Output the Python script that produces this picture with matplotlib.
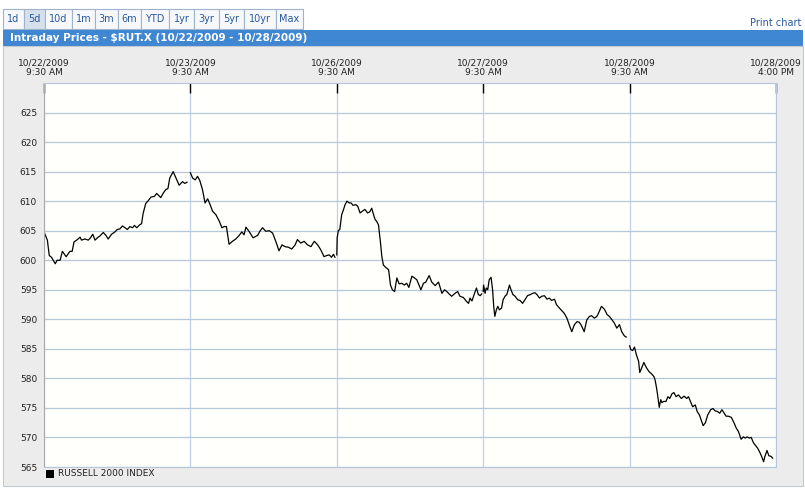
import matplotlib.pyplot as plt
from matplotlib.patches import Rectangle

# minutes after 9:30 AM open, and index level, one pair of lists per session
day1_min = [0, 9, 14, 20, 30, 35, 43, 49, 59, 69, 75, 80, 89, 96, 100, 109, 118, 124, 130, 136,
            142, 149, 158, 165, 171, 180, 189, 195, 202, 209, 216, 222, 229, 236, 241, 247, 255,
            260, 264, 271, 278, 285, 294, 300, 305, 311, 318, 325, 330, 335, 344, 351, 360, 369,
            375, 381]
day1_val = [604.8, 603.4, 600.8, 600.5, 599.4, 600.0, 600.0, 601.5, 600.6, 601.5, 601.5, 603.1,
            603.5, 603.9, 603.4, 603.6, 603.4, 603.8, 604.4, 603.4, 603.8, 604.1, 604.7, 604.2,
            603.6, 604.4, 604.8, 605.2, 605.3, 605.8, 605.5, 605.2, 605.7, 605.5, 605.9, 605.5,
            606.0, 606.2, 607.9, 609.6, 610.1, 610.7, 610.8, 611.3, 611.0, 610.6, 611.4, 612.0,
            612.1, 613.9, 615.0, 614.0, 612.7, 613.3, 613.0, 613.2]

day2_min = [0, 6, 13, 19, 25, 32, 39, 46, 52, 59, 68, 77, 84, 90, 96, 103, 112, 121, 130, 137,
            143, 148, 157, 167, 179, 185, 192, 201, 210, 219, 228, 236, 244, 252, 261, 270, 279,
            285, 294, 303, 312, 321, 330, 339, 347, 356, 363, 370, 376, 381, 385]
day2_val = [614.8, 613.9, 613.6, 614.2, 613.5, 612.0, 609.7, 610.4, 609.5, 608.3, 607.7, 606.6,
            605.5, 605.7, 605.7, 602.7, 603.2, 603.6, 604.2, 604.8, 604.3, 605.6, 604.8, 603.8,
            604.2, 604.9, 605.5, 604.9, 605.0, 604.6, 603.1, 601.6, 602.6, 602.3, 602.2, 601.9,
            602.6, 603.5, 602.9, 603.2, 602.6, 602.3, 603.2, 602.6, 601.8, 600.6, 600.8, 600.9,
            600.5, 601.0, 600.5]

day3_min = [0, 1, 4, 8, 13, 18, 22, 27, 33, 38, 43, 51, 56, 62, 68, 75, 82, 88, 93, 98, 102,
            106, 111, 116, 120, 124, 130, 138, 143, 148, 154, 160, 166, 173, 180, 186, 192, 200,
            207, 213, 219, 224, 231, 237, 246, 253, 262, 271, 280, 287, 293, 299, 306, 315, 322,
            328, 337, 346, 351, 355, 360, 367, 372, 377, 382, 386]
day3_val = [600.9, 603.8, 605.0, 605.2, 607.7, 608.6, 609.4, 610.0, 609.7, 609.7, 609.3, 609.4,
            609.1, 608.0, 608.3, 608.6, 608.0, 608.2, 608.8, 607.7, 606.9, 606.6, 606.0, 603.2,
            600.6, 599.2, 598.8, 598.4, 595.8, 595.0, 594.7, 597.0, 596.0, 596.1, 595.8, 596.1,
            595.4, 597.3, 597.0, 596.7, 595.8, 595.0, 596.1, 596.3, 597.4, 596.3, 595.7, 596.3,
            594.4, 595.0, 594.7, 594.3, 593.9, 594.4, 594.7, 593.9, 593.7, 593.0, 592.7, 593.6,
            593.1, 594.4, 595.3, 594.2, 594.0, 594.3]

day4_min = [0, 1, 5, 8, 12, 16, 21, 25, 28, 31, 35, 39, 43, 49, 53, 58, 63, 70, 74, 79, 85, 92,
            98, 105, 111, 118, 126, 132, 138, 143, 150, 156, 163, 170, 176, 182, 190, 195, 203,
            209, 216, 223, 229, 236, 243, 250, 256, 262, 269, 276, 283, 289, 296, 303, 309, 315,
            323, 330, 336, 342, 349, 356, 363, 369, 376, 381]
day4_val = [594.7, 595.8, 594.4, 595.3, 595.0, 596.7, 597.1, 595.0, 592.2, 590.5, 591.6, 592.2,
            591.6, 591.9, 593.3, 593.9, 594.2, 595.8, 595.0, 594.2, 593.9, 593.3, 593.2, 592.7,
            593.3, 594.0, 594.2, 594.4, 594.5, 594.2, 593.6, 593.9, 594.0, 593.4, 593.6, 593.2,
            593.4, 592.5, 591.9, 591.5, 591.0, 590.2, 589.1, 587.9, 589.1, 589.6, 589.5, 588.9,
            587.9, 589.9, 590.5, 590.6, 590.2, 590.5, 591.3, 592.2, 591.7, 590.8, 590.5, 590.0,
            589.4, 588.5, 589.1, 587.9, 587.2, 587.0]

day5_min = [0, 3, 8, 13, 18, 24, 27, 33, 38, 44, 51, 58, 65, 68, 72, 75, 79, 83, 86, 91, 97,
            102, 107, 113, 118, 124, 130, 138, 145, 152, 157, 162, 168, 175, 180, 186, 191, 196,
            202, 208, 216, 222, 228, 234, 240, 246, 251, 257, 263, 271, 278, 284, 290, 297, 303,
            308, 313, 319, 324, 330, 336, 341, 346, 351, 357, 360, 366, 371, 377, 381]
day5_val = [585.5, 584.9, 584.7, 585.3, 584.0, 582.9, 581.0, 581.9, 582.7, 581.9, 581.2, 580.8,
            580.3, 579.7, 578.3, 577.0, 575.1, 576.4, 575.9, 576.1, 576.1, 576.9, 576.6, 577.4,
            577.6, 576.9, 577.2, 576.6, 577.0, 576.6, 576.9, 576.1, 575.2, 575.5, 574.4, 573.8,
            572.9, 572.0, 572.5, 573.8, 574.7, 574.9, 574.5, 574.4, 574.1, 574.7, 574.2, 573.6,
            573.6, 573.4, 572.5, 571.6, 571.0, 569.7, 570.1, 569.9, 570.1, 569.9, 570.0, 569.1,
            568.6, 568.2, 567.6, 566.9, 565.9, 566.7, 567.8, 566.9, 566.8, 566.5]

tick_labels = ["10/22/2009\n9:30 AM", "10/23/2009\n9:30 AM", "10/26/2009\n9:30 AM",
               "10/27/2009\n9:30 AM", "10/28/2009\n9:30 AM", "10/28/2009\n4:00 PM"]
range_buttons = ["1d", "5d", "10d", "1m", "3m", "6m", "YTD", "1yr", "3yr", "5yr", "10yr", "Max"]
title = "Intraday Prices - $RUT.X (10/22/2009 - 10/28/2009)"
series_name = "RUSSELL 2000 INDEX"
session_len = 390  # minutes from 9:30 to 16:00

W, H = 805, 488
fig = plt.figure(figsize=(W / 100, H / 100), dpi=100)
fig.patch.set_facecolor("white")


def px(x, y, w, h):
    # pixel box (top-left origin) -> figure fraction
    return (x / W, 1 - (y + h) / H), w / W, h / H


def fig_rect(x, y, w, h, z=-1, **kw):
    xy, fw, fh = px(x, y, w, h)
    fig.patches.append(Rectangle(xy, fw, fh, transform=fig.transFigure, zorder=z, **kw))


# range buttons
btn_edges = [3, 24, 45, 72, 95, 118, 141, 169, 194, 219, 244, 276, 303]
for i, lab in enumerate(range_buttons):
    x0, x1 = btn_edges[i], btn_edges[i + 1]
    fc = "#d5e0ec" if lab == "5d" else "#f6f8fb"
    fig_rect(x0, 9, x1 - x0, 20, facecolor=fc, edgecolor="#9fb4cc", lw=0.8)
    fig.text((x0 + x1) / 2 / W, 1 - 19 / H, lab, ha="center", va="center",
             fontsize=7, color="#2a5a9c")

fig.text(801 / W, 1 - 23 / H, "Print chart", ha="right", va="center", fontsize=7, color="#2a5a9c")

# title bar and grey panel
fig_rect(3, 30, 800, 16, facecolor="#3f86d3", edgecolor="none")
fig.text(10 / W, 1 - 38 / H, title, ha="left", va="center", fontsize=7.5, color="white",
         fontweight="bold")
fig_rect(3, 46, 800, 440, facecolor="#ececec", edgecolor="#c4c9d0", lw=0.8)

# price chart
ax = fig.add_axes([44 / W, 1 - 467 / H, 732 / W, 384 / H])
ax.set_zorder(2)
ax.set_facecolor("#fffffb")
days = [(day1_min, day1_val), (day2_min, day2_val), (day3_min, day3_val),
        (day4_min, day4_val), (day5_min, day5_val)]
for d, (mins, vals) in enumerate(days):
    xs = [d + m / session_len for m in mins]
    ax.plot(xs, vals, color="black", lw=0.9)

ax.set_xlim(0, 5)
ax.set_ylim(565, 630)
ax.set_yticks(range(565, 630, 5))
ax.set_xticks(range(6))
ax.set_xticklabels(tick_labels)
ax.xaxis.tick_top()
ax.tick_params(axis="x", direction="in", length=7, width=1, color="black", pad=4,
               labelsize=6.5, labelcolor="#222222")
ax.tick_params(axis="y", length=0, pad=5, labelsize=6.5, labelcolor="#222222")
for lab in ax.get_xticklabels():
    lab.set_multialignment("center")
ax.grid(axis="y", color="#b7c7da", lw=0.9)
ax.grid(axis="x", color="#bfd0e4", lw=0.9)
for s in ax.spines.values():
    s.set_color("#b7c7da")
ax.spines["left"].set_color("#a8a8a8")

# legend
fig_rect(46, 470, 8, 8, z=3, facecolor="black", edgecolor="none")
fig.text(58 / W, 1 - 474 / H, series_name, ha="left", va="center", fontsize=6.5, color="#222222")

fig.savefig("out.png", dpi=100)
